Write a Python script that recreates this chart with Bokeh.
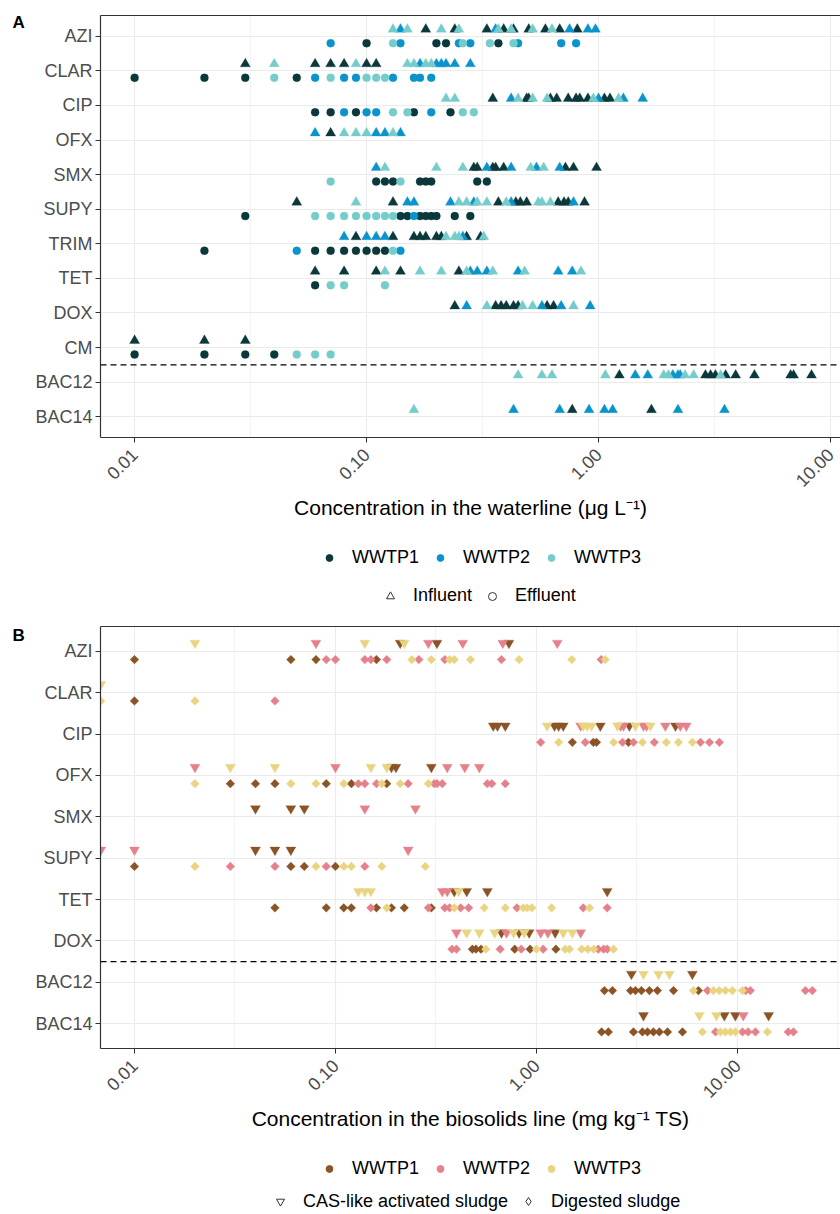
import math
from bokeh.plotting import figure
from bokeh.models import (Range1d, FixedTicker, CustomJSTickFormatter, Span, Label,
                          Legend, LegendItem, LogAxis)
from bokeh.layouts import column, row
from bokeh.embed import file_html
from bokeh.resources import INLINE

FONT = "Liberation Sans"
PLANTS = ["WWTP1", "WWTP2", "WWTP3"]
X_TICKS = [0.01, 0.1, 1, 10]
X_MINOR = [10 ** -2.5, 10 ** -1.5, 10 ** -0.5, 10 ** 0.5, 10 ** 1.5]

# ---------------- Panel A: waterline (ug/L); each list = [WWTP1, WWTP2, WWTP3] ----------------
WATER_COMPOUNDS = ["AZI", "CLAR", "CIP", "OFX", "SMX", "SUPY", "TRIM", "TET", "DOX", "CM", "BAC12", "BAC14"]

AZI_INF = [[0.18, 0.24, 0.33, 0.39, 0.43, 0.50, 0.59, 0.68, 0.81],
           [0.14, 0.36, 0.75, 0.90, 0.97],
           [0.13, 0.15, 0.21, 0.25, 0.37, 0.42, 0.52, 0.63]]
AZI_EFF = [[0.10, 0.20, 0.22, 0.37],
           [0.07, 0.14, 0.25, 0.28, 0.45, 0.69, 0.80],
           [0.13, 0.26, 0.34, 0.43]]
CLAR_INF = [[0.03, 0.06, 0.07, 0.08, 0.10, 0.11],
            [0.17, 0.20, 0.21, 0.22, 0.24, 0.28],
            [0.04, 0.09, 0.15, 0.16, 0.18, 0.19]]
CLAR_EFF = [[0.01, 0.02, 0.03, 0.05],
            [0.06, 0.08, 0.09, 0.13, 0.16, 0.17, 0.19],
            [0.04, 0.07, 0.10, 0.11, 0.12]]
CIP_INF = [[0.35, 0.49, 0.50, 0.62, 0.66, 0.74, 0.80, 0.83, 0.90, 1.06, 1.12],
           [0.42, 1.00, 1.28, 1.55],
           [0.22, 0.24, 0.45, 0.52, 0.60, 0.95, 1.22]]
CIP_EFF = [[0.06, 0.07, 0.09, 0.16, 0.23],
           [0.08, 0.10, 0.11, 0.19],
           [0.13, 0.15, 0.26, 0.29]]
OFX_INF = [[0.07], [0.06, 0.11, 0.12, 0.14], [0.08, 0.09, 0.10, 0.13]]
OFX_EFF = [[], [], []]
SMX_INF = [[0.29, 0.30, 0.35, 0.36, 0.39, 0.72, 0.78, 0.98],
           [0.11, 0.33, 0.42, 0.54, 0.68],
           [0.12, 0.20, 0.26, 0.51, 0.58]]
SMX_EFF = [[0.11, 0.12, 0.13, 0.17, 0.18, 0.19, 0.30, 0.33], [], [0.07, 0.14]]
SUPY_INF = [[0.05, 0.13, 0.37, 0.44, 0.46, 0.49, 0.67, 0.71, 0.74, 0.87],
            [0.15, 0.16, 0.23, 0.29, 0.42, 0.78],
            [0.09, 0.25, 0.27, 0.30, 0.33, 0.40, 0.55, 0.57, 0.62]]
SUPY_EFF = [[0.03, 0.14, 0.15, 0.17, 0.18, 0.19, 0.20, 0.24, 0.28],
            [0.16],
            [0.06, 0.07, 0.08, 0.09, 0.10, 0.11, 0.12, 0.13]]
TRIM_INF = [[0.09, 0.13, 0.16, 0.17, 0.18, 0.20, 0.21, 0.27, 0.31],
            [0.08, 0.10, 0.11, 0.12, 0.26],
            [0.22, 0.24, 0.25, 0.32]]
TRIM_EFF = [[0.02, 0.06, 0.07, 0.08, 0.09, 0.10, 0.11, 0.12], [0.05, 0.14], [0.13]]
TET_INF = [[0.06, 0.08, 0.11, 0.14, 0.25],
           [0.28, 0.30, 0.33, 0.45, 0.67, 0.77],
           [0.12, 0.17, 0.21, 0.27, 0.35, 0.48, 0.84]]
TET_EFF = [[0.06], [], [0.07, 0.08, 0.12]]
DOX_INF = [[0.24, 0.36, 0.38, 0.40, 0.43, 0.45, 0.60, 0.64],
           [0.27, 0.57, 0.69, 0.92],
           [0.33, 0.47, 0.52, 0.78]]
DOX_EFF = [[], [], []]
CM_INF = [[0.01, 0.02, 0.03], [], []]
CM_EFF = [[0.01, 0.02, 0.03, 0.04], [], [0.05, 0.06, 0.07]]
BAC12_INF = [[1.23, 2.89, 3.04, 3.19, 3.53, 3.90, 4.70, 6.73, 6.93, 8.28],
             [1.44, 1.63, 2.09, 2.20, 2.25],
             [0.45, 0.57, 0.63, 1.07, 1.91, 2.00, 2.36, 2.57, 3.36]]
BAC12_EFF = [[], [], []]
BAC14_INF = [[0.77, 1.69], [0.43, 0.68, 0.91, 1.06, 1.15, 2.20, 3.49], [0.16]]
BAC14_EFF = [[], [], []]

# ---------------- Panel B: biosolids line (mg/kg TS); each list = [WWTP1, WWTP2, WWTP3] ----------------
SOLID_COMPOUNDS = ["AZI", "CLAR", "CIP", "OFX", "SMX", "SUPY", "TET", "DOX", "BAC12", "BAC14"]

S_AZI_CAS = [[0.21, 0.32, 0.73], [0.08, 0.29, 0.43, 0.68, 1.27], [0.02, 0.14, 0.22]]
S_AZI_DIG = [[0.01, 0.06, 0.08, 0.16],
             [0.09, 0.10, 0.14, 0.15, 0.18, 0.26, 0.35, 0.67, 2.1],
             [0.24, 0.30, 0.37, 0.39, 0.47, 0.82, 1.5, 2.2]]
S_CLAR_CAS = [[], [], [0.0068]]
S_CLAR_DIG = [[0.01], [0.05], [0.0068, 0.02]]
S_CIP_CAS = [[0.61, 0.64, 0.70, 1.23, 1.29, 1.36, 2.08, 2.90, 4.92],
             [1.66, 2.62, 2.71, 3.41, 3.53, 4.38, 5.20, 5.57],
             [1.13, 1.71, 1.79, 1.88, 2.53, 3.11, 3.69]]
S_CIP_DIG = [[1.51, 1.92, 1.99, 2.87],
             [1.05, 1.75, 2.68, 3.04, 3.86, 6.55, 7.26, 8.13],
             [1.29, 2.42, 3.37, 4.43, 5.09, 5.97]]
S_OFX_CAS = [[0.19, 0.20, 0.30], [0.02, 0.10, 0.36, 0.44, 0.52], [0.03, 0.05, 0.15, 0.18]]
S_OFX_DIG = [[0.03, 0.04, 0.05, 0.09, 0.12, 0.18],
             [0.13, 0.14, 0.16, 0.23, 0.31, 0.32, 0.34, 0.57, 0.60, 0.70],
             [0.02, 0.06, 0.08, 0.11, 0.17, 0.21, 0.29]]
S_SMX_CAS = [[0.04, 0.06, 0.07], [0.14, 0.25], []]
S_SMX_DIG = [[], [], []]
S_SUPY_CAS = [[0.04, 0.05, 0.06], [0.0068, 0.01, 0.23], []]
S_SUPY_DIG = [[0.01, 0.06, 0.07, 0.10], [0.03, 0.05, 0.09, 0.14],
              [0.02, 0.08, 0.11, 0.12, 0.17, 0.28]]
S_TET_CAS = [[0.39, 0.45, 0.57, 2.25], [0.34, 0.36], [0.13, 0.14, 0.15, 0.41]]
S_TET_DIG = [[0.05, 0.09, 0.11, 0.12, 0.16, 0.19, 0.22, 0.30],
             [0.15, 0.29, 0.35, 0.37, 0.42, 0.46, 0.80, 1.71, 2.25],
             [0.18, 0.39, 0.55, 0.70, 0.86, 0.90, 0.95, 1.19, 1.84]]
S_DOX_CAS = [[0.67, 0.82, 0.92, 1.24], [0.40, 0.71, 1.05, 1.14, 1.66],
             [0.45, 0.52, 0.62, 0.77, 0.87, 1.36, 1.51]]
S_DOX_DIG = [[0.48, 0.50, 0.53, 0.78, 0.93, 1.25],
             [0.38, 0.40, 0.66, 0.84, 1.08, 2.03, 2.16, 2.25],
             [0.56, 1.00, 1.39, 1.46, 1.68, 1.80, 1.93, 2.42]]
S_BAC12_CAS = [[2.97, 5.97], [], [3.41, 4.05, 4.59]]
S_BAC12_DIG = [[2.18, 2.39, 2.94, 3.11, 3.33, 3.65, 4.00, 4.81, 6.40],
               [7.10, 11.0, 11.6, 21.8, 23.6],
               [6.04, 7.60, 8.13, 8.71, 9.44, 10.6]]
S_BAC14_CAS = [[3.41, 8.61, 9.77, 14.3], [10.7], [6.47, 7.87]]
S_BAC14_DIG = [[2.11, 2.28, 3.04, 3.37, 3.57, 3.82, 4.09, 4.49, 5.33],
               [7.78, 10.6, 11.3, 12.3, 17.9, 19.0],
               [6.70, 8.23, 8.71, 9.23, 9.77, 14.1]]

WATER_INFLUENT = [AZI_INF, CLAR_INF, CIP_INF, OFX_INF, SMX_INF, SUPY_INF, TRIM_INF,
                  TET_INF, DOX_INF, CM_INF, BAC12_INF, BAC14_INF]
WATER_EFFLUENT = [AZI_EFF, CLAR_EFF, CIP_EFF, OFX_EFF, SMX_EFF, SUPY_EFF, TRIM_EFF,
                  TET_EFF, DOX_EFF, CM_EFF, BAC12_EFF, BAC14_EFF]
SOLID_CAS = [S_AZI_CAS, S_CLAR_CAS, S_CIP_CAS, S_OFX_CAS, S_SMX_CAS, S_SUPY_CAS,
             S_TET_CAS, S_DOX_CAS, S_BAC12_CAS, S_BAC14_CAS]
SOLID_DIG = [S_AZI_DIG, S_CLAR_DIG, S_CIP_DIG, S_OFX_DIG, S_SMX_DIG, S_SUPY_DIG,
             S_TET_DIG, S_DOX_DIG, S_BAC12_DIG, S_BAC14_DIG]

WATER_COLORS = ["#0B383A", "#0A94CB", "#76CCCB"]
SOLID_COLORS = ["#8A5426", "#E5818A", "#E9D581"]

GRID = "#EBEBEB"
DARK = "#333333"
LETTER_W = 26


def blank_fig(w, h):
    f = figure(width=w, height=h, x_range=Range1d(0, w), y_range=Range1d(h, 0),
               output_backend="svg", toolbar_location=None, min_border=0,
               min_border_left=0, min_border_right=0, min_border_top=0, min_border_bottom=0,
               x_axis_location=None, y_axis_location=None)
    f.outline_line_color = None
    f.background_fill_color = "white"
    f.border_fill_color = "white"
    f.xgrid.visible = False
    f.ygrid.visible = False
    f.grid.grid_line_color = None
    return f


def letter_fig(letter, h, y_center):
    f = blank_fig(LETTER_W, h)
    f.add_layout(Label(x=12, y=y_center, text=letter, text_font=FONT, text_font_style="bold",
                       text_font_size="17px", text_baseline="middle", text_align="left",
                       text_color="black"))
    return f


def legend_fig(h, colors, shape_markers, shape_labels, row1, row2):
    f = blank_fig(840, h)
    far = [-1000]
    dots = [f.scatter(far, far, marker="circle", fill_color=c, line_color=c) for c in colors]
    shapes = [f.scatter(far, far, marker=m, fill_color=None, line_color=DARK, line_width=1)
              for m in shape_markers]
    common = dict(orientation="horizontal", label_text_font=FONT, label_text_font_size="18px",
                  label_text_color="black", padding=0, margin=0,
                  border_line_color=None, background_fill_alpha=0)
    leg1 = Legend(items=[LegendItem(label=PLANTS[i], renderers=[dots[i]]) for i in range(3)],
                  location=row1, glyph_width=18, glyph_height=17, label_height=17,
                  label_standoff=14, spacing=12, **common)
    leg2 = Legend(items=[LegendItem(label=shape_labels[0], renderers=[shapes[0]]),
                         LegendItem(label=shape_labels[1], renderers=[shapes[1]])],
                  location=row2, glyph_width=20, glyph_height=20, label_height=17,
                  label_standoff=13, spacing=10, **common)
    f.add_layout(leg1)
    f.add_layout(leg2)
    return f


def make_panel(compounds, upper, lower, colors, x_start, x_end, height, top_border,
               bottom_border, upper_marker, lower_marker, lower_size, lower_angle,
               sep, x_title):
    n = len(compounds)
    p = figure(width=840 - LETTER_W, height=height, x_axis_type="log",
               x_range=Range1d(x_start, x_end), y_range=Range1d(n - 1 + 0.6, -0.6),
               output_backend="svg", toolbar_location=None,
               min_border_left=100 - LETTER_W, min_border_right=0,
               min_border_top=top_border, min_border_bottom=bottom_border)
    p.outline_line_color = None
    p.background_fill_color = "white"
    p.border_fill_color = "white"

    xt = FixedTicker(ticks=X_TICKS, minor_ticks=X_MINOR)
    yt = FixedTicker(ticks=list(range(n)))

    xa = p.xaxis[0]
    xa.ticker = xt
    xa.formatter = CustomJSTickFormatter(code="return tick.toFixed(2);")
    xa.major_label_orientation = math.pi / 4
    xa.major_label_text_font = FONT
    xa.major_label_text_font_size = "18px"
    xa.major_label_text_color = "#4D4D4D"
    xa.major_label_standoff = 9
    xa.major_tick_out = 5
    xa.major_tick_in = 0
    xa.major_tick_line_color = DARK
    xa.minor_tick_line_color = None
    xa.axis_line_color = DARK
    xa.axis_line_width = 1.2
    xa.axis_label = x_title
    xa.axis_label_text_font = FONT
    xa.axis_label_text_font_size = "21px"
    xa.axis_label_text_font_style = "normal"
    xa.axis_label_text_color = "black"
    xa.axis_label_standoff = 0

    ya = p.yaxis[0]
    ya.ticker = yt
    ya.major_label_overrides = {i: c for i, c in enumerate(compounds)}
    ya.major_label_text_font = FONT
    ya.major_label_text_font_size = "18px"
    ya.major_label_text_color = "#4D4D4D"
    ya.major_label_standoff = 3
    ya.major_tick_out = 5
    ya.major_tick_in = 0
    ya.major_tick_line_color = DARK
    ya.minor_tick_line_color = None
    ya.axis_line_color = DARK
    ya.axis_line_width = 1.2

    top = LogAxis(ticker=FixedTicker(ticks=[]), axis_line_color=DARK, axis_line_width=1.2,
                  major_tick_out=0, major_tick_in=0, major_label_standoff=0,
                  major_tick_line_color=None, minor_tick_line_color=None)
    p.add_layout(top, "above")

    p.xgrid.ticker = xt
    p.xgrid.grid_line_color = GRID
    p.xgrid.grid_line_width = 1.1
    p.xgrid.minor_grid_line_color = GRID
    p.xgrid.minor_grid_line_width = 0.6
    p.ygrid.ticker = yt
    p.ygrid.grid_line_color = GRID
    p.ygrid.grid_line_width = 1.1

    for k in range(3):
        for sets, marker, size, angle, off in ((upper, upper_marker, 10, 0.0, -0.2),
                                               (lower, lower_marker, lower_size, lower_angle, 0.2)):
            xs, ys = [], []
            for ci, s in enumerate(sets):
                for v in s[k]:
                    xs.append(v)
                    ys.append(ci + off)
            p.scatter(xs, ys, marker=marker, size=size, angle=angle,
                      fill_color=colors[k], line_color=colors[k], line_width=0.3)

    p.add_layout(Span(location=sep, dimension="width", line_color="black",
                      line_dash="6 4", line_width=1.1))
    return p


# heights: A block 0-537, legend A 537-612, B block 612-1148, legend B 1148-1212
pA = make_panel(WATER_COMPOUNDS, WATER_INFLUENT, WATER_EFFLUENT, WATER_COLORS,
                10 ** -2.147, 10 ** 1.043, 537, 15, 100,
                "triangle", "circle", 8, 0.0, 9.5,
                "Concentration in the waterline (\u03bcg L\u207b\u00b9)")
pB = make_panel(SOLID_COMPOUNDS, SOLID_CAS, SOLID_DIG, SOLID_COLORS,
                10 ** -2.169, 10 ** 1.513, 536, 14, 100,
                "inverted_triangle", "square", 6.2, math.pi / 4, 7.5,
                "Concentration in the biosolids line (mg kg\u207b\u00b9 TS)")

lA = letter_fig("A", 537, 9)
lB = letter_fig("B", 536, 11)

legA = legend_fig(75, WATER_COLORS, ["triangle", "circle"],
                  ["Influent", "Effluent"], (320, 44.5), (380, 6))
legB = legend_fig(64, SOLID_COLORS, ["inverted_triangle", "diamond"],
                  ["CAS-like activated sludge", "Digested sludge"], (320, 33.5), (270, 0.5))

layout = column(row(lA, pA, spacing=0), legA, row(lB, pB, spacing=0), legB, spacing=0)
open("out.html", "w").write(file_html(layout, INLINE))
